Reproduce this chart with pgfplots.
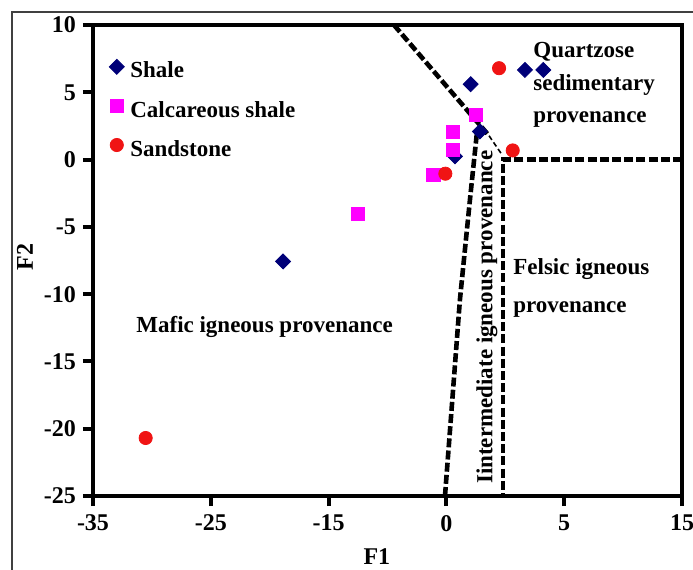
\documentclass[border=0pt]{standalone}
\usepackage{fontspec}
\setmainfont{Liberation Serif}
\usepackage{pgfplots}
\pgfplotsset{compat=1.18}
\definecolor{shalec}{RGB}{0,0,120}
\definecolor{calcc}{RGB}{255,0,255}
\definecolor{sandc}{RGB}{240,20,20}
\newcommand{\tfont}{\fontsize{12}{14}\selectfont\bfseries}
\newcommand{\lfont}{\fontsize{11.5}{13}\selectfont\bfseries}
\begin{document}
\begin{tikzpicture}
\begin{axis}[
  scale only axis, width=294.5pt, height=235.5pt,
  xmin=-35, xmax=15, ymin=-25, ymax=10,
  xtick={-35,-25,-15,-5,5,15},
  xticklabels={\textbf{-35},\textbf{-25},\textbf{-15},\textbf{0},\textbf{5},\textbf{15}},
  ytick={-25,-20,-15,-10,-5,0,5,10},
  yticklabels={\textbf{-25},\textbf{-20},\textbf{-15},\textbf{-10},\textbf{-5},\textbf{0},\textbf{5},\textbf{10}},
  tick pos=left, tick align=outside, major tick length=5pt,
  tick style={line width=2pt, black},
  axis line style={line width=2.2pt},
  ticklabel style={font=\tfont},
  xticklabel style={yshift=-1pt},
  xlabel={F1}, ylabel={F2},
  every axis x label/.style={at={(axis description cs:0.482,-0.128)}, anchor=center, inner sep=0pt, font=\tfont},
  every axis y label/.style={at={(axis description cs:-0.1155,0.507)}, anchor=center, rotate=90, inner sep=0pt, font=\tfont},
  clip=false,
  legend cell align=left,
  legend style={at={(axis description cs:0.027,0.928)}, anchor=north west, draw=none, fill=none,
    inner sep=0pt, row sep=8.2pt, column sep=3pt, font=\lfont,
    nodes={inner sep=0pt, text height=8pt, text depth=2.5pt}},
  legend image code/.code={\draw[#1] plot coordinates {(0pt,2.8pt)};},
]
\addplot[only marks, mark=square*, mark size=2.65pt, mark options={rotate=45, draw=shalec, fill=shalec}]
  coordinates {(-18.87,-7.57) (-2.94,5.60) (1.67,6.66) (3.23,6.66) (-2.15,2.09) (-4.27,0.24)};
\addplot[only marks, mark=square*, mark size=3.3pt, mark options={draw=calcc, fill=calcc}]
  coordinates {(-12.5,-4.01) (-2.49,3.33) (-4.47,2.05) (-4.47,0.73) (-6.11,-1.12)};
\addplot[only marks, mark=*, mark size=3.3pt, mark options={draw=sandc, fill=sandc}]
  coordinates {(-30.53,-20.69) (-5.09,-1.05) (-0.53,6.79) (0.63,0.68)};
\legend{Shale, Calcareous shale, Sandstone}
% boundaries
\addplot[black, line width=2.3pt, dash pattern=on 4.5pt off 1.6pt, forget plot]
  coordinates {(-9.45,10) (-1.38,1.77)};
\addplot[black, line width=0.8pt, dash pattern=on 2.5pt off 1.5pt, forget plot]
  coordinates {(-1.38,1.77) (-0.28,0.36)};
\addplot[black, line width=2.3pt, dash pattern=on 4.5pt off 1.6pt, forget plot]
  coordinates {(15,0) (-0.19,0) (-0.19,-25)};
\addplot[black, line width=2.3pt, dash pattern=on 4.5pt off 1.6pt, forget plot]
  coordinates {(-5.12,-25) (-3.85,-10.39) (-3.0,-2.97) (-2.4,2.07)};
% region labels
\node[anchor=base west, inner sep=0pt, font=\lfont] at (axis cs:2.35,7.55) {Quartzose};
\node[anchor=base west, inner sep=0pt, font=\lfont] at (axis cs:2.35,5.11) {sedimentary};
\node[anchor=base west, inner sep=0pt, font=\lfont] at (axis cs:2.35,2.74) {provenance};
\node[anchor=base west, inner sep=0pt, font=\lfont] at (axis cs:0.65,-8.53) {Felsic igneous};
\node[anchor=base west, inner sep=0pt, font=\lfont] at (axis cs:0.65,-11.35) {provenance};
\node[anchor=base west, inner sep=0pt, font=\lfont] at (axis cs:-31.35,-12.83) {Mafic igneous provenance};
\node[anchor=center, rotate=90, inner sep=0pt, font=\lfont] at (axis cs:-1.55,-11.72) {Iintermediate igneous provenance};
% outer frame
\draw[line width=0.6pt, black!75] ([xshift=-40.5pt]rel axis cs:0,-0.5) |- ([yshift=6.5pt]rel axis cs:1.2,1);
\end{axis}
\pgfresetboundingbox
\path[use as bounding box] ([xshift=-46.5pt,yshift=-37pt]current axis.south west) rectangle ([xshift=5.5pt,yshift=12.5pt]current axis.north east);
\end{tikzpicture}
\end{document}
